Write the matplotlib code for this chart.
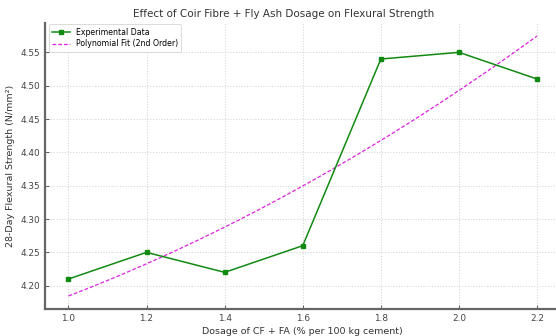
import numpy as np
import matplotlib
matplotlib.use("Agg")
import matplotlib.pyplot as plt

dosage = [1.0, 1.2, 1.4, 1.6, 1.8, 2.0, 2.2]
strength = [4.21, 4.25, 4.22, 4.26, 4.54, 4.55, 4.51]
fit_order = 2
yticks = [4.20, 4.25, 4.30, 4.35, 4.40, 4.45, 4.50, 4.55]
title = "Effect of Coir Fibre + Fly Ash Dosage on Flexural Strength"
xlabel = "Dosage of CF + FA (% per 100 kg cement)"
ylabel = "28-Day Flexural Strength (N/mm²)"

coef = np.polyfit(dosage, strength, fit_order)
xs = np.linspace(min(dosage), max(dosage), 200)
ys = np.polyval(coef, xs)

plt.rcParams['font.family'] = ['DejaVu Sans']
fig = plt.figure(figsize=(5.56, 3.36), dpi=100)
ax = fig.add_axes([45/556, 27/336, 515.5/556, 286/336])

ax.plot(dosage, strength, color='#128a12', marker='s', markersize=3.3, linewidth=1.1,
        label='Experimental Data', zorder=3)
ax.plot(xs, ys, color='#dd22dd', linestyle='--', linewidth=0.9, dashes=(3, 1.6),
        label='Polynomial Fit (2nd Order)', zorder=2)

ax.set_title(title, fontsize=7.5, color='#333333', pad=4, x=0.4636)
ax.set_xlabel(xlabel, fontsize=6.8, color='#333333', labelpad=3)
ax.set_ylabel(ylabel, fontsize=6.8, color='#333333', labelpad=4)

ax.grid(True, linestyle=':', color='#d4d4d4', linewidth=0.75)
for s in ['top', 'right']:
    ax.spines[s].set_visible(False)
for s in ['left', 'bottom']:
    ax.spines[s].set_color('#666666')
    ax.spines[s].set_linewidth(1.6)
ax.tick_params(axis='both', labelsize=6.4, colors='#444444', direction='in', length=3, width=0.6)
ax.set_xticks(dosage)
ax.set_yticks(yticks)
ax.set_yticklabels([f"{v:.2f}" for v in yticks])
ax.set_xticklabels([f"{v:.1f}" for v in dosage])

leg = ax.legend(loc='upper left', fontsize=5.6, frameon=True, fancybox=True,
                handlelength=2.2, borderpad=0.45, labelspacing=0.35,
                bbox_to_anchor=(0.0, 1.01))
leg.get_frame().set_edgecolor('#cccccc')
leg.get_frame().set_linewidth(0.6)

fig.savefig('out.png', dpi=100)
